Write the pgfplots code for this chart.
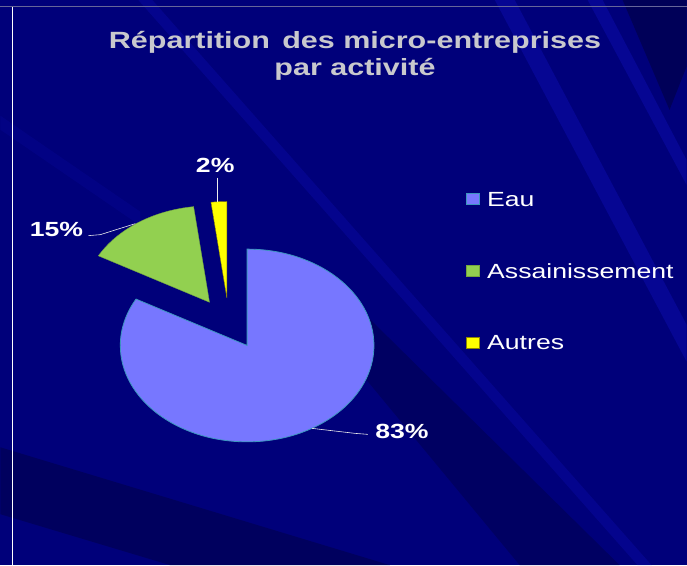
\documentclass[border=0pt]{standalone}
\usepackage{pgfplots}
\pgfplotsset{compat=1.18}
\usepackage{pgfplotstable}
\usepackage{fontspec}
\setmainfont{Liberation Sans}[FakeStretch=1.3]

\definecolor{bg}{RGB}{0,0,122}
\definecolor{bglight}{RGB}{10,10,165}
\definecolor{bgdark}{RGB}{0,0,88}
\definecolor{eau}{RGB}{119,119,255}
\definecolor{eauedge}{RGB}{60,150,190}
\definecolor{assai}{RGB}{146,208,80}
\definecolor{autres}{RGB}{255,255,0}
\definecolor{titlegray}{RGB}{200,200,205}

\pgfplotstableread{
label value
Eau 83
Assainissement 15
Autres 2
}\piedata
\pgfplotstablegetelem{0}{value}\of\piedata \let\vA\pgfplotsretval
\pgfplotstablegetelem{1}{value}\of\piedata \let\vB\pgfplotsretval
\pgfplotstablegetelem{2}{value}\of\piedata \let\vC\pgfplotsretval
\pgfmathsetmacro\aZ{90}
\pgfmathsetmacro\aA{\aZ-3.6*\vA}
\pgfmathsetmacro\aB{\aA-3.6*\vB}
\pgfmathsetmacro\aC{\aB-3.6*\vC}
\def\rx{127}
\def\ry{96.5}
\newcommand\sector[5]{%
  \filldraw[#5] (axis cs:#1,#2) -- ++(#3:\rx pt and \ry pt)
    arc[start angle=#3, end angle=#4, x radius=\rx pt, y radius=\ry pt] -- cycle;}

\begin{document}
\begin{tikzpicture}
\begin{axis}[
  width=687pt, height=566pt, scale only axis,
  xmin=0, xmax=687, ymin=0, ymax=566, enlargelimits=false,
  hide axis, clip=false,
  legend image code/.code={\filldraw[#1] (0pt,-5.5pt) rectangle (13pt,5.5pt);},
  legend style={at={(axis cs:466,374)}, anchor=north west, draw=none, fill=none,
    inner sep=0pt, outer sep=0pt, row sep=57.5pt,
    nodes={inner sep=0pt, text=white, font=\fontsize{20.5}{24}\selectfont,
      text height=14.5pt, text depth=0pt},
    /tikz/every odd column/.style={column sep=8pt}},
  legend cell align=left,
]
% background
\fill[bg] (axis cs:0,0) rectangle (axis cs:687,566);
\fill[bglight, opacity=0.6] (axis cs:495,566) -- (axis cs:515,566) -- (axis cs:687,241) -- (axis cs:687,204) -- cycle;
\fill[bglight, opacity=0.6] (axis cs:588,566) -- (axis cs:603,566) -- (axis cs:687,406) -- (axis cs:687,381) -- cycle;
\fill[bgdark] (axis cs:623,566) -- (axis cs:687,566) -- (axis cs:687,499) -- (axis cs:670,456) -- cycle;
\fill[bgdark, opacity=0.8] (axis cs:0,118) -- (axis cs:390,0) -- (axis cs:170,0) -- (axis cs:0,51) -- cycle;
\fill[bgdark, opacity=0.7] (axis cs:300,266) -- (axis cs:350,266) -- (axis cs:620,0) -- (axis cs:520,0) -- cycle;
\fill[bglight, opacity=0.45] (axis cs:138,566) -- (axis cs:152,566) -- (axis cs:652,0) -- (axis cs:638,0) -- cycle;
\fill[bglight, opacity=0.25] (axis cs:0,450) -- (axis cs:0,436) -- (axis cs:140,340) -- (axis cs:140,354) -- cycle;
\draw[white] (axis cs:12,0) -- (axis cs:12,559);
\draw[gray!80!blue, line width=1pt] (axis cs:0,559) -- (axis cs:687,559);

% pie
\sector{247}{220}{\aZ}{\aA}{fill=eau, draw=eauedge, line width=0.8pt}
\sector{209.3}{263.3}{\aA}{\aB}{fill=assai, draw=assai!80!black, line width=0.4pt}
\sector{226.7}{267.7}{\aB}{\aC}{fill=autres, draw=olive, line width=0.4pt}

% leader lines
\draw[white!85!gray, line width=0.6pt] (axis cs:88,330) -- (axis cs:100,331) -- (axis cs:135,342);
\draw[white!85!gray, line width=0.6pt] (axis cs:312,137) -- (axis cs:355,132) -- (axis cs:368,131);
\draw[white!85!gray, line width=0.6pt] (axis cs:217,388) -- (axis cs:217,364);

% data labels
\node[text=white, font=\bfseries\fontsize{20.5}{24}\selectfont] at (axis cs:56,336.5) {15\%};
\node[text=white, font=\bfseries\fontsize{20.5}{24}\selectfont] at (axis cs:402,134) {83\%};
\node[text=white, font=\bfseries\fontsize{20.5}{24}\selectfont] at (axis cs:215,400) {2\%};

% title
\node[align=center, text=titlegray, font=\bfseries\fontsize{23.5}{27}\selectfont] at (axis cs:355,510.5)
  {Répartition\, des micro-entreprises\\par activité};

\addlegendimage{fill=eau, draw=eauedge}
\addlegendentry{Eau}
\addlegendimage{fill=assai, draw=assai!80!black}
\addlegendentry{Assainissement}
\addlegendimage{fill=autres, draw=olive}
\addlegendentry{Autres}
\end{axis}
\end{tikzpicture}
\end{document}
